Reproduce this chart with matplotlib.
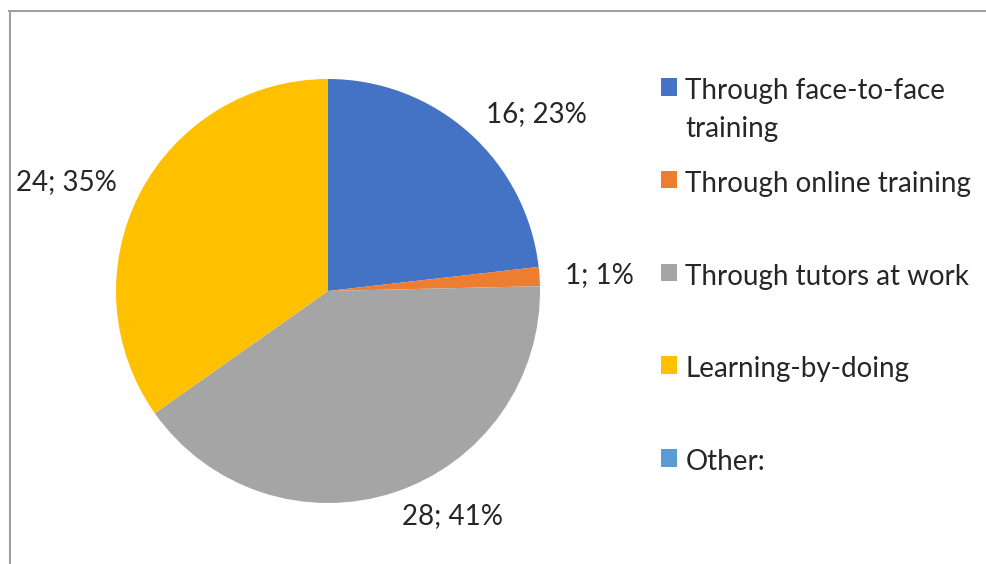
import matplotlib
matplotlib.use("Agg")
import matplotlib.pyplot as plt
from matplotlib.lines import Line2D
from matplotlib.patches import Patch

categories = ["Through face-to-face\ntraining", "Through online training",
              "Through tutors at work", "Learning-by-doing", "Other:"]
values = [16, 1, 28, 24, 0]
colors = ["#4472C4", "#ED7D31", "#A5A5A5", "#FFC000", "#5B9BD5"]

plt.rcParams['font.family'] = ['Lato', 'DejaVu Sans']
FS = 20

total = sum(values)
labels = [f"{v}; {round(v / total * 100)}%" if v > 0 else "" for v in values]

W, H = 987, 564
fig = plt.figure(figsize=(W / 100, H / 100), dpi=100)
cx, cy, R = 328, 291, 212
ax = fig.add_axes([(cx - R) / W, (H - cy - R) / H, 2 * R / W, 2 * R / H])
wedges, texts = ax.pie(values, labels=labels, colors=colors, startangle=90,
                       counterclock=False, labeldistance=1.12, radius=1,
                       textprops=dict(fontsize=FS, color="#262626"))
ax.set_xlim(-1, 1)
ax.set_ylim(-1, 1)
ax.set_aspect('equal')
ax.axis('off')

# legend: one entry per slot, evenly spaced like the reference
first_y, step = 88, 92.75
for i, (c, lab) in enumerate(zip(colors, categories)):
    y_top = first_y + i * step - 10
    leg = fig.legend([Patch(facecolor=c, edgecolor='none')], [lab],
                     loc='upper left', bbox_to_anchor=(661 / W, 1 - y_top / H),
                     frameon=False, fontsize=FS, handlelength=0.58,
                     handleheight=0.6, handletextpad=0.3, borderpad=0,
                     borderaxespad=0)
    for t in leg.get_texts():
        t.set_color("#262626")
        t.set_linespacing(1.55)
    for col in leg._legend_handle_box.get_children():
        for hp in col.get_children():
            hp.align = "top"

# chart frame (top and left edges visible)
fig.add_artist(Line2D([9 / W, 986 / W], [1 - 11 / H, 1 - 11 / H],
                      transform=fig.transFigure, color="#A0A0A0", lw=1.5))
fig.add_artist(Line2D([10 / W, 10 / W], [1 - 11 / H, 0],
                      transform=fig.transFigure, color="#A0A0A0", lw=1.5))

fig.savefig("out.png", dpi=100)
